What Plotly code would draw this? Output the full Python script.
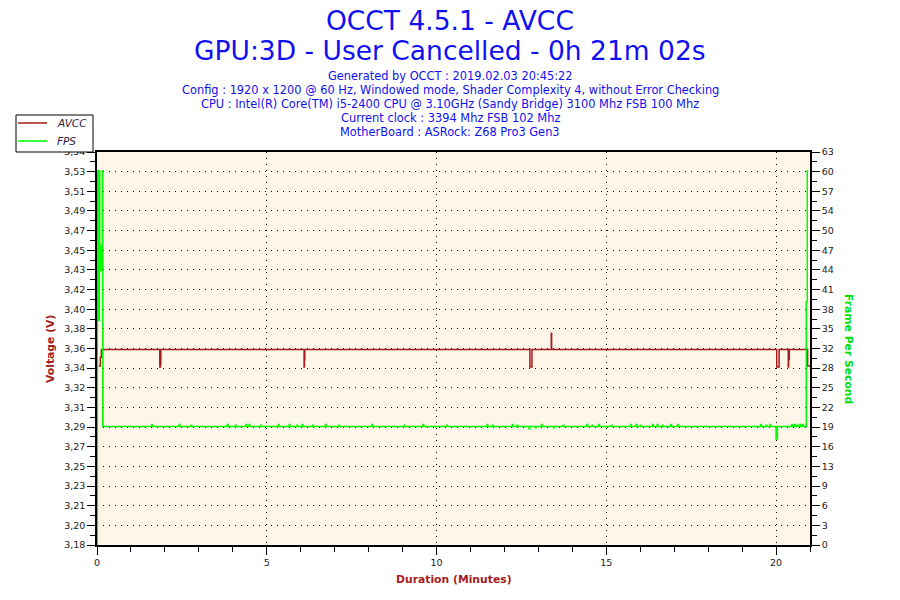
import plotly.graph_objects as go

# AVCC voltage (V) over time (minutes), step-style samples
avcc_t = [0.05, 0.10, 0.13, 1.85, 1.87, 1.88, 6.10, 6.11, 6.12, 12.75, 12.81,
          13.38, 13.39, 20.02, 20.09, 20.36, 20.37, 20.39, 20.93, 21.0]
avcc_v = [3.344, 3.352, 3.359, 3.343, 3.346, 3.359, 3.343, 3.350, 3.359, 3.343, 3.359,
          3.374, 3.359, 3.343, 3.359, 3.343, 3.350, 3.359, 3.344, 3.344]

# Frames per second over time (minutes)
fps_t = [0.00, 0.01, 0.04, 0.05, 0.07, 0.08, 0.10, 0.11, 0.13, 0.14, 0.16, 0.17,
         1.61, 1.63, 2.42, 2.44, 2.77, 2.79, 3.84, 3.86, 4.08, 4.10, 4.39, 4.41,
         4.48, 4.50, 4.82, 4.84, 5.34, 5.36, 5.66, 5.68, 5.89, 5.91, 6.04, 6.06,
         6.35, 6.37, 6.73, 6.75, 7.12, 7.14, 8.10, 8.12, 9.05, 9.07, 9.60, 9.62,
         10.30, 10.32, 11.49, 11.51, 11.65, 11.67, 12.23, 12.25, 12.37, 12.39,
         12.73, 12.75, 12.91, 12.93, 13.09, 13.11, 13.45, 13.47, 13.73, 13.75,
         14.43, 14.45, 14.58, 14.60, 14.78, 14.80, 15.15, 15.17, 15.71, 15.73,
         15.88, 15.90, 16.00, 16.02, 16.36, 16.38, 16.50, 16.52, 16.65, 16.67,
         16.90, 16.92, 17.10, 17.12, 19.55, 19.57, 19.70, 19.72, 19.82, 19.84,
         20.00, 20.04, 20.46, 20.48, 20.55, 20.57, 20.63, 20.65, 20.70, 20.72,
         20.78, 20.80, 20.89, 20.92, 20.95]
fps_v = [0, 60, 60, 36, 60, 48, 44, 48, 44, 48, 60, 19,
         19.3, 19, 19.3, 19, 19.2, 19, 19.3, 19, 19.2, 19, 19.3, 19,
         19.3, 19, 19.2, 19, 19.3, 19, 19.3, 19, 19.2, 19, 19.3, 19,
         19.2, 19, 19.3, 19, 19.2, 19, 19.3, 19, 19.2, 19, 19.3, 19,
         19.2, 19, 19.3, 19, 19.2, 19, 19.3, 19, 19.2, 19,
         18.6, 19, 18.8, 19, 19.3, 19, 18.8, 19, 19.2, 19,
         19.3, 19, 19.2, 19, 19.3, 19, 19.2, 19, 19.3, 19,
         19.3, 19, 19.2, 19, 19.3, 19, 19.3, 19, 19.2, 19,
         19.3, 19, 19.3, 19, 19.3, 19, 19.2, 19, 19.3, 19,
         17.0, 19, 19.3, 19, 19.3, 19, 19.2, 19, 19.3, 19,
         19.3, 19, 39, 60, 60]

volt_labels = ["3,18", "3,20", "3,21", "3,23", "3,25", "3,27", "3,29", "3,31", "3,32",
               "3,34", "3,36", "3,38", "3,40", "3,42", "3,43", "3,45", "3,47", "3,49",
               "3,51", "3,53", "3,54"]
fps_labels = ["0", "3", "6", "9", "13", "16", "19", "22", "25", "28", "32", "35", "38",
              "41", "44", "47", "50", "54", "57", "60", "63"]
x_ticks = [0, 5, 10, 15, 20]

info_lines = [
    "Generated by OCCT : 2019.02.03 20:45:22",
    "Config : 1920 x 1200 @ 60 Hz, Windowed mode, Shader Complexity 4, without Error Checking",
    "CPU : Intel(R) Core(TM) i5-2400 CPU @ 3.10GHz (Sandy Bridge) 3100 Mhz FSB 100 Mhz",
    "Current clock : 3394 Mhz FSB 102 Mhz",
    "MotherBoard : ASRock: Z68 Pro3 Gen3",
]

V_MIN, V_MAX = 3.18, 3.54
F_MAX = 63
RED = "#A51C1C"
GREEN = "#00FF00"
BLUE = "#1010F0"
FONT = "DejaVu Sans"

# the page body adds an 8px margin, so the figure is shifted up/left by that much
OFF = 8
# plot area in reference pixels: x 97..810, y 152..545
def py(p):
    return (545 - p) / 393.0

def px(p):
    return (p - 97) / 713.0

fig = go.Figure()
fig.add_trace(go.Scatter(x=avcc_t, y=avcc_v, mode="lines", name="AVCC",
                         line=dict(color=RED, width=1.5, shape="hv")))
fig.add_trace(go.Scatter(x=fps_t, y=fps_v, mode="lines", name="FPS", yaxis="y2",
                         line=dict(color=GREEN, width=1.5, shape="hv")))

n = len(volt_labels) - 1
volt_vals = [V_MIN + (V_MAX - V_MIN) * k / n for k in range(n + 1)]
fps_vals = [F_MAX * k / n for k in range(n + 1)]

tickfont = dict(family=FONT, size=9.5, color="#222222")
grid_dash = "1px,5px"

fig.update_layout(
    width=900, height=600,
    margin=dict(l=97 - OFF, r=90 + OFF, t=152 - OFF, b=55 + OFF, autoexpand=False),
    paper_bgcolor="white",
    plot_bgcolor="#FDF6E9",
    showlegend=False,
    xaxis=dict(range=[0, 21], tickmode="array", tickvals=x_ticks,
               ticks="outside", ticklen=8, tickcolor="black", tickfont=tickfont,
               minor=dict(dtick=1, tick0=0, ticks="outside", ticklen=5,
                          tickcolor="black", showgrid=False),
               showgrid=True, gridcolor="black", griddash=grid_dash, gridwidth=1,
               showline=True, linecolor="black", linewidth=1.5, mirror=True,
               zeroline=False),
    yaxis=dict(range=[V_MIN, V_MAX], tickmode="array", tickvals=volt_vals,
               ticktext=volt_labels, ticks="outside", ticklen=8, tickcolor="black",
               tickfont=tickfont,
               minor=dict(dtick=(V_MAX - V_MIN) / (2 * n), tick0=V_MIN, ticks="outside",
                          ticklen=5, tickcolor="black", showgrid=False),
               showgrid=True, gridcolor="black", griddash=grid_dash, gridwidth=1,
               showline=True, linecolor="black", linewidth=1.5, zeroline=False),
    yaxis2=dict(range=[0, F_MAX], overlaying="y", side="right", tickmode="array",
                tickvals=fps_vals, ticktext=fps_labels, ticks="outside", ticklen=8,
                tickcolor="black", tickfont=tickfont,
                minor=dict(dtick=F_MAX / (2 * n), tick0=0, ticks="outside",
                           ticklen=5, tickcolor="black", showgrid=False),
                showgrid=False, showline=True, linecolor="black", linewidth=1.5,
                zeroline=False),
)


def label(text, x, y, size, color, angle=0, anchor="center"):
    fig.add_annotation(text=text, x=px(x), y=py(y), xref="paper", yref="paper",
                       xanchor=anchor, yanchor="middle", textangle=angle,
                       showarrow=False, font=dict(family=FONT, size=size, color=color))


# titles
label("OCCT 4.5.1 - AVCC", 450, 20, 26.5, BLUE)
label("GPU:3D - User Cancelled - 0h 21m 02s", 450, 50, 26.5, BLUE)
for i, line in enumerate(info_lines):
    label(line, 450, 76 + 14 * i, 11.4, BLUE)

# axis titles
label("<b>Voltage (V)</b>", 50, 349, 10.8, RED, -90)
label("<b>Frame Per Second</b>", 849, 349, 10.8, "#00E000", 90)
label("<b>Duration (Minutes)</b>", 454, 579, 10.8, RED)

# legend box drawn by hand (top-left, outside the plot)
fig.add_shape(type="rect", xref="paper", yref="paper", x0=px(16), x1=px(93),
              y0=py(152), y1=py(115), line=dict(color="black", width=1),
              fillcolor="white", layer="above")
for name, color, yy in [("AVCC", RED, 123), ("FPS", GREEN, 141)]:
    fig.add_shape(type="line", xref="paper", yref="paper", x0=px(18), x1=px(47),
                  y0=py(yy), y1=py(yy), line=dict(color=color, width=1.5), layer="above")
    label("<i>" + name + "</i>", 55, yy, 10.5, "#222244", anchor="left")

fig.write_html("out.html")
